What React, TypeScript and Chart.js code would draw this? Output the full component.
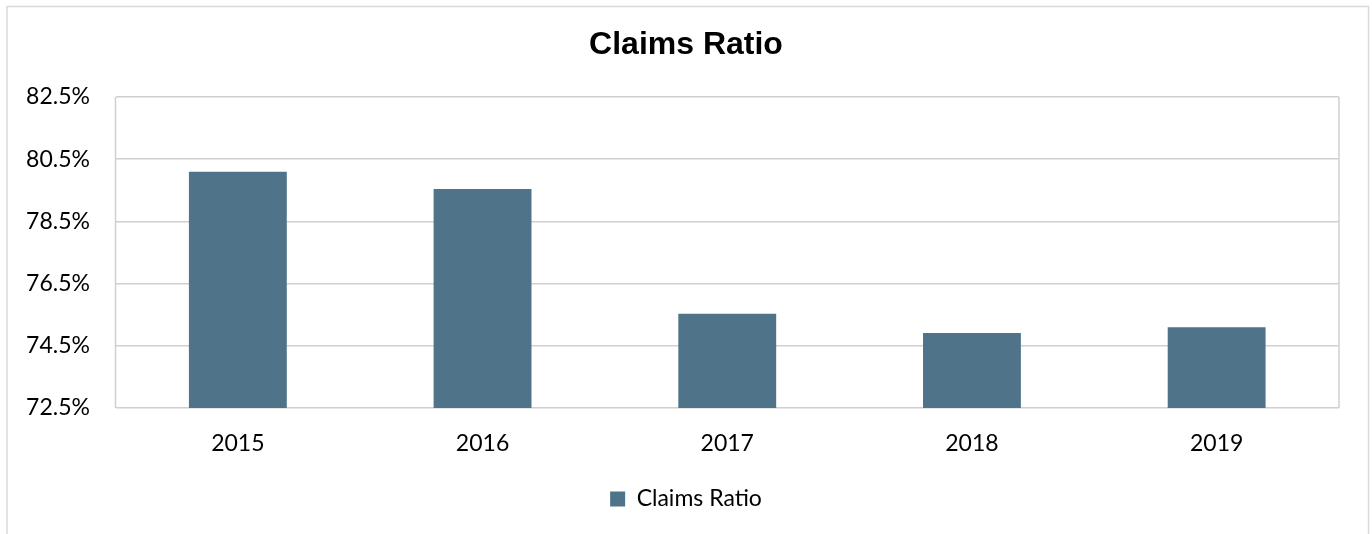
import React, { useEffect, useRef } from "react";
import { Chart, registerables } from "chart.js";

Chart.register(...registerables);

const categories = ["2015", "2016", "2017", "2018", "2019"];
const claimsRatio = [80.1, 79.54, 75.53, 74.91, 75.1];
const seriesLabel = "Claims Ratio";
const chartTitle = "Claims Ratio";
const yMin = 72.5;
const yMax = 82.5;
const yStep = 2;

const barColor = "#4F7489";
const gridColor = "#D0D0D0";
const frameColor = "#D9D9D9";
const labelFont = "Lato, 'Open Sans', sans-serif";

const framePlugin = {
  id: "frameAndPlotBorder",
  beforeDraw(chart: any) {
    const ctx = chart.ctx;
    ctx.save();
    ctx.fillStyle = "#FFFFFF";
    ctx.fillRect(0, 0, chart.width, chart.height);
    ctx.strokeStyle = frameColor;
    ctx.lineWidth = 1.5;
    ctx.beginPath();
    ctx.moveTo(7, chart.height + 2);
    ctx.lineTo(7, 6.5);
    ctx.lineTo(1368.5, 6.5);
    ctx.lineTo(1368.5, chart.height + 2);
    ctx.stroke();
    ctx.restore();
  },
  beforeDatasetsDraw(chart: any) {
    const { ctx, chartArea } = chart;
    ctx.save();
    ctx.strokeStyle = gridColor;
    ctx.lineWidth = 1.5;
    ctx.beginPath();
    ctx.moveTo(chartArea.left, chartArea.top);
    ctx.lineTo(chartArea.left, chartArea.bottom);
    ctx.moveTo(chartArea.right, chartArea.top);
    ctx.lineTo(chartArea.right, chartArea.bottom);
    ctx.stroke();
    ctx.restore();
  },
};

export default function App() {
  const canvasRef = useRef<HTMLCanvasElement | null>(null);

  useEffect(() => {
    if (!canvasRef.current) return;
    const chart = new Chart(canvasRef.current, {
      type: "bar",
      data: {
        labels: categories,
        datasets: [
          {
            label: seriesLabel,
            data: claimsRatio,
            backgroundColor: barColor,
            borderWidth: 0,
            barPercentage: 0.4,
            categoryPercentage: 1,
          },
        ],
      },
      options: {
        responsive: false,
        animation: false,
        layout: { padding: { left: 0, right: 0, top: 0, bottom: 13.5 } },
        plugins: {
          title: {
            display: true,
            text: chartTitle,
            color: "#000000",
            font: { family: "'Liberation Sans', Arial, sans-serif", size: 32, weight: "bold" },
            padding: { top: 25.8, bottom: 32.8 },
          },
          legend: {
            display: true,
            position: "bottom",
            labels: {
              boxWidth: 15,
              boxHeight: 15,
              padding: 10,
              color: "#000000",
              font: { family: labelFont, size: 23 },
            },
          },
          tooltip: { enabled: false },
        },
        scales: {
          x: {
            grid: { display: false, drawTicks: false },
            border: { display: false },
            ticks: {
              color: "#000000",
              padding: 21.7,
              font: { family: labelFont, size: 23 },
            },
            afterFit(axis: any) {
              axis.height = 69.5;
            },
          },
          y: {
            min: yMin,
            max: yMax,
            grid: { color: gridColor, lineWidth: 1.5, drawTicks: false },
            border: { display: false },
            ticks: {
              stepSize: yStep,
              color: "#000000",
              padding: 25.5,
              font: { family: labelFont, size: 23 },
              callback: (v: any) => Number(v).toFixed(1) + "%",
            },
            afterFit(axis: any) {
              axis.width = 115.5;
            },
          },
          yRight: {
            type: "linear",
            position: "right",
            display: true,
            grid: { display: false, drawTicks: false },
            border: { display: false },
            ticks: { display: false },
            afterFit(axis: any) {
              axis.width = 33;
            },
          },
        },
      },
      plugins: [framePlugin],
    });
    return () => chart.destroy();
  }, []);

  return (
    <div style={{ position: "fixed", left: 0, top: 0, width: 1372, height: 534, background: "#fff" }}>
      <canvas ref={canvasRef} width={1372} height={534} style={{ display: "block" }} />
    </div>
  );
}
